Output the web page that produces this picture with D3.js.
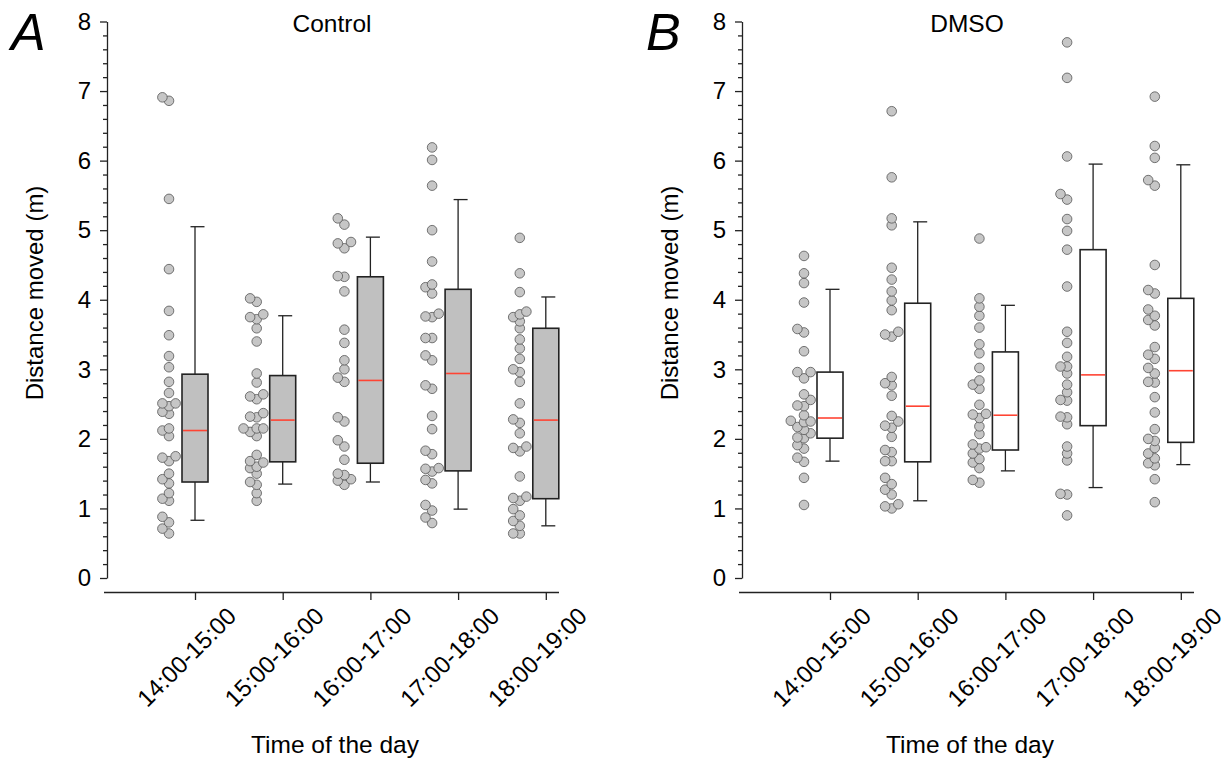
<!DOCTYPE html>
<html>
<head>
<meta charset="UTF-8">
<title>Distance moved by time of day</title>
<script src="https://d3js.org/d3.v7.min.js"></script>
<style>
  body { margin: 0; background: #fff; }
  svg { display: block; font-family: "Liberation Sans", Arial, sans-serif; }
</style>
</head>
<body>
<svg width="1230" height="762"></svg>
<script>
// time windows (x categories)
const hours = ["14:00-15:00", "15:00-16:00", "16:00-17:00", "17:00-18:00", "18:00-19:00"];

// Control: individual values (m)
const ctrl14 = [6.91, 6.86, 5.45, 4.44, 3.84, 3.49, 3.19, 3.03, 2.82, 2.66, 2.51, 2.51, 2.47, 2.39, 2.36, 2.15, 2.12, 2.04, 1.75, 1.73, 1.68, 1.50, 1.42, 1.36, 1.22, 1.14, 1.11, 0.88, 0.80, 0.71, 0.64];
const ctrl15 = [4.02, 3.97, 3.79, 3.75, 3.72, 3.59, 3.40, 2.94, 2.81, 2.64, 2.61, 2.57, 2.37, 2.32, 2.31, 2.15, 2.15, 2.15, 2.10, 2.04, 1.77, 1.68, 1.66, 1.60, 1.58, 1.50, 1.38, 1.34, 1.22, 1.11];
const ctrl16 = [5.17, 5.08, 4.83, 4.81, 4.74, 4.34, 4.33, 4.12, 3.57, 3.38, 3.13, 3.00, 2.88, 2.82, 2.31, 2.25, 1.98, 1.89, 1.70, 1.50, 1.48, 1.42, 1.40, 1.34];
const ctrl17 = [6.19, 6.01, 5.64, 5.00, 4.55, 4.22, 4.18, 4.09, 3.80, 3.76, 3.75, 3.45, 3.45, 3.20, 3.13, 2.77, 2.72, 2.33, 2.14, 1.83, 1.78, 1.58, 1.57, 1.53, 1.41, 1.36, 1.05, 0.97, 0.87, 0.79];
const ctrl18 = [4.89, 4.38, 4.11, 3.83, 3.79, 3.75, 3.69, 3.59, 3.43, 3.30, 3.15, 3.00, 2.96, 2.82, 2.51, 2.28, 2.23, 2.08, 1.89, 1.87, 1.82, 1.46, 1.17, 1.15, 1.11, 0.99, 0.90, 0.82, 0.75, 0.64, 0.64];

// Control: box statistics
const ctrlQ1  = [1.38, 1.67, 1.65, 1.54, 1.14];
const ctrlMed = [2.12, 2.27, 2.84, 2.94, 2.27];
const ctrlQ3  = [2.93, 2.91, 4.33, 4.15, 3.59];
const ctrlLo  = [0.83, 1.35, 1.38, 0.99, 0.75];
const ctrlHi  = [5.05, 3.77, 4.90, 5.44, 4.04];

// DMSO: individual values (m)
const dmso14 = [4.63, 4.38, 4.24, 3.96, 3.58, 3.53, 3.26, 2.96, 2.96, 2.87, 2.64, 2.56, 2.48, 2.47, 2.34, 2.26, 2.25, 2.24, 2.17, 2.13, 2.08, 2.02, 2.01, 1.91, 1.86, 1.73, 1.67, 1.44, 1.05];
const dmso15 = [6.71, 5.76, 5.17, 5.07, 4.46, 4.29, 4.12, 3.99, 3.85, 3.54, 3.50, 3.47, 2.89, 2.80, 2.77, 2.62, 2.33, 2.25, 2.19, 2.16, 2.03, 1.84, 1.81, 1.68, 1.68, 1.44, 1.35, 1.27, 1.20, 1.06, 1.03, 1.00];
const dmso16 = [4.88, 4.02, 3.90, 3.77, 3.60, 3.36, 3.23, 3.02, 2.84, 2.78, 2.72, 2.49, 2.36, 2.35, 2.30, 2.18, 2.07, 1.92, 1.88, 1.86, 1.79, 1.71, 1.66, 1.58, 1.41, 1.37];
const dmso17 = [7.70, 7.19, 6.06, 5.52, 5.44, 5.16, 4.99, 4.72, 4.19, 3.54, 3.38, 3.18, 3.04, 3.04, 2.94, 2.78, 2.67, 2.56, 2.55, 2.32, 2.31, 2.21, 1.89, 1.79, 1.69, 1.21, 1.20, 0.90];
const dmso18 = [6.92, 6.21, 6.04, 5.72, 5.64, 4.50, 4.14, 4.09, 3.86, 3.77, 3.71, 3.63, 3.32, 3.21, 3.15, 3.02, 2.94, 2.82, 2.81, 2.60, 2.38, 2.14, 2.00, 1.97, 1.87, 1.79, 1.72, 1.65, 1.62, 1.42, 1.09];

// DMSO: box statistics
const dmsoQ1  = [2.01, 1.67, 1.84, 2.19, 1.95];
const dmsoMed = [2.30, 2.47, 2.34, 2.92, 2.98];
const dmsoQ3  = [2.96, 3.95, 3.25, 4.72, 4.02];
const dmsoLo  = [1.68, 1.11, 1.54, 1.30, 1.63];
const dmsoHi  = [4.15, 5.12, 3.92, 5.95, 5.94];

const yTicks = [0, 1, 2, 3, 4, 5, 6, 7, 8];

const panels = [
  { letter: "A", title: "Control", x0: 107, boxFill: "#c0c0c0",
    groups: [ctrl14, ctrl15, ctrl16, ctrl17, ctrl18],
    q1: ctrlQ1, med: ctrlMed, q3: ctrlQ3, lo: ctrlLo, hi: ctrlHi },
  { letter: "B", title: "DMSO", x0: 742, boxFill: "#ffffff",
    groups: [dmso14, dmso15, dmso16, dmso17, dmso18],
    q1: dmsoQ1, med: dmsoMed, q3: dmsoQ3, lo: dmsoLo, hi: dmsoHi }
];

const svg = d3.select("svg");
const y = d3.scaleLinear().domain([0, 8]).range([578, 21.5]);
const axisY = 592;
const fs = 24;
const r = 4.8;

// simple beeswarm: push points sideways when they crowd each other
function swarm(values, step) {
  const placed = [];
  const sorted = values.map((v, i) => ({ v, i })).sort((a, b) => a.v - b.v);
  sorted.forEach(p => {
    const py = y(p.v);
    const cands = [0, -step, step, -2 * step, 2 * step, -3 * step, 3 * step];
    let off = 0;
    for (const c of cands) {
      const hit = placed.some(q => Math.hypot(q.off - c, q.py - py) < step - 0.1);
      if (!hit) { off = c; break; }
    }
    placed.push({ v: p.v, py, off });
  });
  return placed;
}

panels.forEach(p => {
  const g = svg.append("g");
  const x = d3.scalePoint().domain(hours).range([p.x0 + 88, p.x0 + 88 + 4 * 87.7]);

  // y axis
  const ya = g.append("g").attr("transform", `translate(${p.x0},0)`)
    .call(d3.axisLeft(y).tickValues(yTicks).tickSize(7).tickSizeOuter(0).tickPadding(9).tickFormat(d3.format("d")));
  g.append("g").attr("transform", `translate(${p.x0},0)`)
    .call(d3.axisLeft(y).tickValues(d3.range(0, 8.01, 0.2).filter(v => Math.abs(v - Math.round(v)) > 0.01))
      .tickSize(4).tickSizeOuter(0).tickFormat(""))
    .select(".domain").remove();
  ya.selectAll("text").style("font-size", fs + "px").attr("fill", "#000");

  // x axis
  const xa = g.append("g").attr("transform", `translate(0,${axisY})`)
    .call(d3.axisBottom(x).tickSize(8).tickSizeOuter(0));
  xa.select(".domain").attr("d", `M${p.x0 - 3},0.5H${p.x0 + 452}`);
  xa.selectAll("text")
    .style("font-size", fs + "px").attr("fill", "#000")
    .attr("text-anchor", "middle")
    .attr("y", 0).attr("dy", "0.35em")
    .attr("transform", "translate(-9,65) rotate(-45)");

  g.selectAll(".domain, .tick line").attr("stroke", "#222").attr("stroke-width", 1.3);

  // titles and labels
  g.append("text").attr("x", p.x0 + 225).attr("y", 32).attr("text-anchor", "middle")
    .style("font-size", "24.5px").text(p.title);
  g.append("text").attr("x", p.x0 - 96).attr("y", 50)
    .style("font-size", "52px").style("font-style", "italic").text(p.letter);
  g.append("text").attr("x", p.x0 + 228).attr("y", 753).attr("text-anchor", "middle")
    .style("font-size", "24.5px").text("Time of the day");
  g.append("text").attr("transform", `translate(${p.x0 - 64},293) rotate(-90)`)
    .attr("text-anchor", "middle").style("font-size", "24px").text("Distance moved (m)");

  // boxes
  hours.forEach((h, i) => {
    const cx = x(h);
    const bw = 26;
    const bg = g.append("g");
    bg.append("line").attr("x1", cx).attr("x2", cx).attr("y1", y(p.hi[i])).attr("y2", y(p.q3[i]))
      .attr("stroke", "#222").attr("stroke-width", 1.3);
    bg.append("line").attr("x1", cx).attr("x2", cx).attr("y1", y(p.q1[i])).attr("y2", y(p.lo[i]))
      .attr("stroke", "#222").attr("stroke-width", 1.3);
    [p.hi[i], p.lo[i]].forEach(v => {
      bg.append("line").attr("x1", cx - 4.5).attr("x2", cx + 9.5).attr("y1", y(v)).attr("y2", y(v))
        .attr("stroke", "#222").attr("stroke-width", 1.3);
    });
    bg.append("rect").attr("x", cx - bw / 2).attr("width", bw)
      .attr("y", y(p.q3[i])).attr("height", y(p.q1[i]) - y(p.q3[i]))
      .attr("fill", p.boxFill).attr("stroke", "#222").attr("stroke-width", 1.6);
    bg.append("line").attr("x1", cx - bw / 2 + 1).attr("x2", cx + bw / 2 - 1)
      .attr("y1", y(p.med[i])).attr("y2", y(p.med[i]))
      .attr("stroke", "#ff4433").attr("stroke-width", 1.6);

    // raw points
    g.append("g").selectAll("circle").data(swarm(p.groups[i], 6.6)).join("circle")
      .attr("cx", d => cx - 26 + d.off).attr("cy", d => d.py).attr("r", r)
      .attr("fill", "#c6c6c6").attr("stroke", "#555").attr("stroke-width", 0.8);
  });
});
</script>
</body>
</html>
